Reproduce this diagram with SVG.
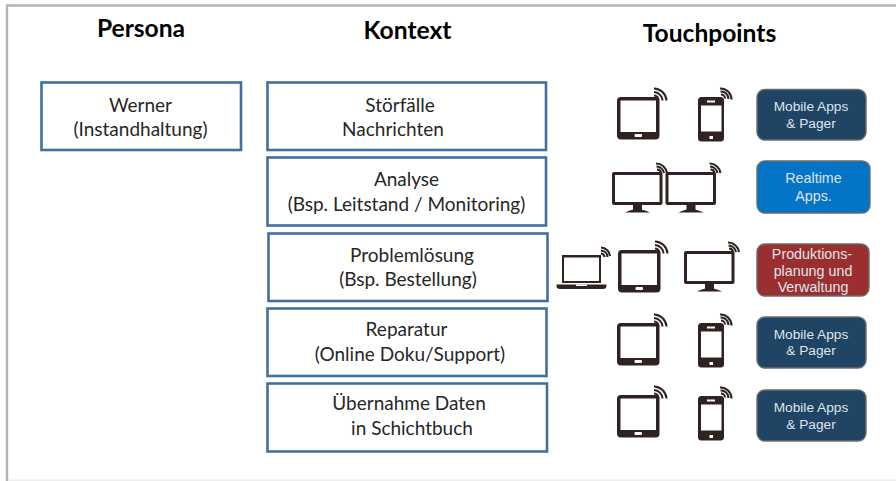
<svg xmlns="http://www.w3.org/2000/svg" width="896" height="481" viewBox="0 0 896 481">
<style>
.t{font-family:Lato,"Open Sans","Liberation Sans",sans-serif;fill:#262626;font-size:19px;text-anchor:middle}
.h{font-family:Lato,"Open Sans","Liberation Sans",sans-serif;fill:#000;font-size:24.600px;font-weight:700;text-anchor:middle}
.b{fill:#fff;stroke:#416f9f;stroke-width:2.6}
.p{stroke:#6b6b6b;stroke-width:1.4}
.l{font-family:"Liberation Sans",Arial,sans-serif;fill:#dfe5ec;font-size:13.700px;text-anchor:middle}
.m{font-size:14.300px}
.d{fill:#2e2320}
.w{fill:#fff}
.a{fill:none;stroke:#2e2320;stroke-width:2.100}
</style>
<defs>
<g id="wifi-lg"><path class="a" d="M37 -1.500A5 5 0 0 1 41.500 3M37 -5A9 9 0 0 1 45.500 3.500M37 -8.500A13 13 0 0 1 49.500 3.500"/></g>
<g id="tablet"><rect class="d" width="42.500" height="42.500" rx="4"/><rect class="w" x="3.500" y="3.500" width="35.500" height="31.500"/><rect class="w" x="17.500" y="37" width="7.500" height="3" rx="1"/><use href="#wifi-lg"/></g>
<g id="phone"><rect class="d" width="26" height="44.500" rx="3.500"/><rect class="w" x="3" y="8.500" width="20.500" height="26"/><rect class="w" x="9" y="3.500" width="8" height="2"/><rect class="w" x="11.500" y="39" width="3.500" height="3"/><path class="a" stroke-width="1.800" d="M23 -2.500A4 4 0 0 1 27 1.500M22.500 -5.500A7.500 7.500 0 0 1 30.500 2M22 -8.500A11 11 0 0 1 33.500 2.500"/></g>
<g id="monitor"><rect class="d" width="50.500" height="33" rx="2"/><rect class="w" x="3" y="3" width="44.500" height="27"/><rect class="d" x="21" y="33" width="9" height="5"/><path class="d" d="M13 40.500Q20 37 25 37Q31 37 38 40.500Z"/></g>
<g id="monitor-wifi"><use href="#monitor"/><path class="a" d="M45 -2.500A4 4 0 0 1 49 1M44.500 -5.500A8 8 0 0 1 52 1M44 -8.500A11 11 0 0 1 55 1"/></g>
<g id="laptop"><path class="d" d="M6 0H45V28H6ZM.5 29.500H50.500V31Q50.500 34 47 34H4Q.5 34 .5 31Z"/><rect class="w" x="8" y="2.500" width="35" height="23.500"/><rect class="w" x="20" y="29.500" width="11" height="1.500"/><path class="a" d="M45 -1.500A4 4 0 0 1 48.500 2M45 -4.500A7 7 0 0 1 51.500 2M45 -7.500A9.500 9.500 0 0 1 54 1"/></g>
</defs>
<rect width="896" height="481" fill="#fff"/>
<path d="M7 481V5.500H896" fill="none" stroke="#b3b3b3" stroke-width="2.400"/>
<path d="M8 480.300H896" stroke="#eeeeee" stroke-width="1.400"/>
<g id="connectors"/>
<text class="h" x="141" y="36.500">Persona</text>
<text class="h" x="407.500" y="39">Kontext</text>
<text class="h" x="709.500" y="42">Touchpoints</text>
<g id="node-persona"><rect class="b" x="41.500" y="82.500" width="199.500" height="67.500"/><text class="t" x="140.500" y="112">Werner</text><text class="t" x="140.500" y="136">(Instandhaltung)</text></g>
<g id="node-stoerfaelle"><rect class="b" x="267.500" y="82.500" width="278.500" height="67.500"/><text class="t" x="400" y="112">Störfälle</text><text class="t" x="393" y="136">Nachrichten</text></g>
<g id="node-analyse"><rect class="b" x="267.500" y="157.500" width="278.500" height="68"/><text class="t" x="406.500" y="186">Analyse</text><text class="t" x="406.500" y="211">(Bsp. Leitstand / Monitoring)</text></g>
<g id="node-problem"><rect class="b" x="268.500" y="233.500" width="279" height="67.500"/><text class="t" x="412" y="262">Problemlösung</text><text class="t" x="408" y="286">(Bsp. Bestellung)</text></g>
<g id="node-reparatur"><rect class="b" x="267.500" y="308.500" width="279" height="67.500"/><text class="t" x="406.500" y="336">Reparatur</text><text class="t" x="410" y="361">(Online Doku/Support)</text></g>
<g id="node-uebernahme"><rect class="b" x="267.500" y="383.500" width="279.500" height="68"/><text class="t" x="409" y="410">Übernahme Daten</text><text class="t" x="412" y="435">in Schichtbuch</text></g>
<g id="icons">
<use href="#tablet" x="617" y="97"/><use href="#phone" x="698" y="97"/>
<use href="#monitor-wifi" x="612" y="172"/><use href="#monitor-wifi" x="665.500" y="172"/>
<use href="#laptop" x="556" y="255"/><use href="#tablet" x="618" y="250"/><use href="#monitor-wifi" x="684" y="251"/>
<use href="#tablet" x="617" y="323"/><use href="#phone" x="698" y="323"/>
<use href="#tablet" x="617" y="395"/><use href="#phone" x="698" y="396"/>
</g>
<g id="node-app1"><rect class="p" fill="#1f4464" x="757" y="89.500" width="109" height="50.500" rx="8"/><text class="l" x="811" y="111">Mobile Apps</text><text class="l" x="811" y="128">&amp; Pager</text></g>
<g id="node-app2"><rect class="p" fill="#0474c6" x="757" y="161" width="113" height="52" rx="8"/><text class="l m" x="813.500" y="183">Realtime</text><text class="l m" x="813.500" y="201">Apps.</text></g>
<g id="node-app3"><rect class="p" fill="#9b2f2f" x="757" y="244" width="112" height="52" rx="8"/><text class="l m" x="812" y="259">Produktions-</text><text class="l m" x="813" y="276">planung und</text><text class="l m" x="813" y="292">Verwaltung</text></g>
<g id="node-app4"><rect class="p" fill="#1f4464" x="757" y="317" width="109" height="51" rx="8"/><text class="l" x="811" y="339">Mobile Apps</text><text class="l" x="811" y="355">&amp; Pager</text></g>
<g id="node-app5"><rect class="p" fill="#1f4464" x="757" y="390" width="109" height="51" rx="8"/><text class="l" x="811" y="412">Mobile Apps</text><text class="l" x="811" y="429">&amp; Pager</text></g>
</svg>
